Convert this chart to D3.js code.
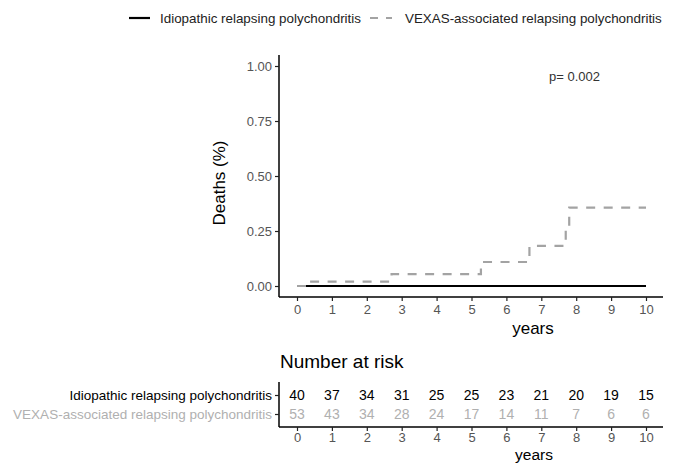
<!DOCTYPE html>
<html>
<head>
<meta charset="utf-8">
<script src="https://cdn.jsdelivr.net/npm/d3@7"></script>
<style>
  body { margin: 0; background: #fff; }
  svg { display: block; font-family: "Liberation Sans", Arial, sans-serif; }
</style>
</head>
<body>
<svg id="chart" width="675" height="464"></svg>
<script>
// data
let groups = ['Idiopathic relapsing polychondritis', 'VEXAS-associated relapsing polychondritis'];
let years = [0, 1, 2, 3, 4, 5, 6, 7, 8, 9, 10];
let yTicks = [0, 0.25, 0.5, 0.75, 1];

let idioTime = [0, 10];
let idioDeaths = [0, 0];
let vexasTime = [0, 0.28, 2.71, 5.27, 6.66, 7.7, 7.8, 10];
let vexasDeaths = [0, 0.02, 0.054, 0.109, 0.182, 0.27, 0.356, 0.356];

let atRiskIdio = [40, 37, 34, 31, 25, 25, 23, 21, 20, 19, 15];
let atRiskVexas = [53, 43, 34, 28, 24, 17, 14, 11, 7, 6, 6];

let pLabel = 'p= 0.002';

let colors = ['#000', '#a3a3a3'];
let textColors = ['#000', '#b0b0b0'];

let svg = d3.select('#chart');

let x = d3.scaleLinear().domain([0, 10]).range([297, 646]);
let y = d3.scaleLinear().domain([0, 1]).range([286, 66]);

// legend
let leg = svg.append('g').attr('font-size', 13.4);
leg.append('line').attr('x1', 129).attr('x2', 150).attr('y1', 18).attr('y2', 18)
	.attr('stroke', colors[0]).attr('stroke-width', 2.2);
leg.append('text').attr('x', 160).attr('y', 18).attr('dy', '0.35em').attr('fill', '#222').text(groups[0]);
leg.append('line').attr('x1', 370).attr('x2', 392).attr('y1', 18).attr('y2', 18)
	.attr('stroke', colors[1]).attr('stroke-width', 2.2).attr('stroke-dasharray', '8,8');
leg.append('text').attr('x', 405).attr('y', 18).attr('dy', '0.35em').attr('fill', '#222').text(groups[1]);

// main panel axes
let gx = svg.append('g').attr('transform', 'translate(0,297)')
	.call(d3.axisBottom(x).tickValues(years).tickSize(4).tickPadding(4));
let gy = svg.append('g').attr('transform', 'translate(279,0)')
	.call(d3.axisLeft(y).tickValues(yTicks).tickFormat(d3.format('.2f')).tickSize(4).tickPadding(3));

gx.select('.domain').attr('d', 'M279,0H663');
gy.select('.domain').attr('d', 'M0,55V297');

[gx, gy].forEach(g => {
	g.select('.domain').attr('stroke', '#000').attr('stroke-width', 1.5);
	g.selectAll('.tick line').attr('stroke', '#222').attr('stroke-width', 1.2);
	g.selectAll('.tick text').attr('fill', '#555').attr('font-size', 13)
		.attr('font-family', '"Liberation Sans", Arial, sans-serif');
});

svg.append('text').attr('x', 533).attr('y', 328).attr('dy', '0.35em')
	.attr('text-anchor', 'middle').attr('font-size', 17).attr('fill', '#000').text('years');

svg.append('text').attr('transform', 'translate(219,183) rotate(-90)').attr('dy', '0.35em')
	.attr('text-anchor', 'middle').attr('font-size', 17).attr('fill', '#000').text('Deaths (%)');

svg.append('text').attr('x', 549).attr('y', 76).attr('dy', '0.35em')
	.attr('font-size', 13).attr('fill', '#333').text(pLabel);

// curves
let line = d3.line()
	.x(d => x(d[0]))
	.y(d => y(d[1]))
	.curve(d3.curveStepAfter);

svg.append('path')
	.attr('d', line(d3.zip(idioTime, idioDeaths)))
	.attr('fill', 'none').attr('stroke', colors[0]).attr('stroke-width', 2.2);

svg.append('path')
	.attr('d', line(d3.zip(vexasTime, vexasDeaths)))
	.attr('fill', 'none').attr('stroke', colors[1]).attr('stroke-width', 2.2)
	.attr('stroke-dasharray', '9,8.5');

// number at risk table
svg.append('text').attr('x', 280).attr('y', 361).attr('dy', '0.35em')
	.attr('font-size', 19).attr('fill', '#000').text('Number at risk');

let rowY = d3.scalePoint().domain(groups).range([395, 414]);

let tx = svg.append('g').attr('transform', 'translate(0,427)')
	.call(d3.axisBottom(x).tickValues(years).tickSize(4).tickPadding(2));
tx.select('.domain').attr('d', 'M279,0H663');
let ty = svg.append('g').attr('transform', 'translate(279,0)')
	.call(d3.axisLeft(rowY).tickSize(4).tickPadding(3));
ty.select('.domain').attr('d', 'M0,382V427');

[tx, ty].forEach(g => {
	g.select('.domain').attr('stroke', '#000').attr('stroke-width', 1.5);
	g.selectAll('.tick line').attr('stroke', '#222').attr('stroke-width', 1.2);
	g.selectAll('.tick text').attr('font-size', 13)
		.attr('font-family', '"Liberation Sans", Arial, sans-serif');
});
tx.selectAll('.tick text').attr('fill', '#555');
ty.selectAll('.tick text').attr('fill', (d, i) => textColors[i]).attr('font-size', 13.5);

[atRiskIdio, atRiskVexas].forEach((vals, i) => {
	svg.append('g').selectAll('text')
		.data(vals)
		.join('text')
		.attr('x', (d, j) => x(years[j]))
		.attr('y', rowY(groups[i]))
		.attr('dy', '0.35em')
		.attr('text-anchor', 'middle')
		.attr('font-size', 14)
		.attr('fill', textColors[i])
		.text(d => d);
});

svg.append('text').attr('x', 534).attr('y', 455).attr('dy', '0.35em')
	.attr('text-anchor', 'middle').attr('font-size', 15.5).attr('fill', '#000').text('years');
</script>
</body>
</html>
